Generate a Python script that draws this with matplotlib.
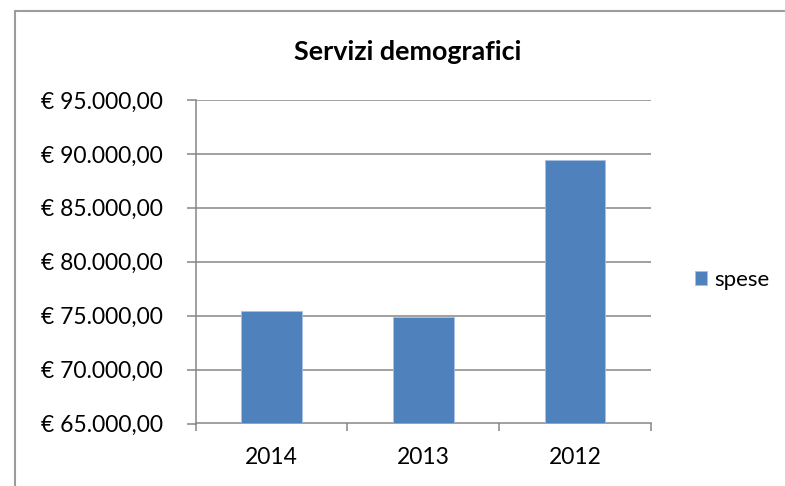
import matplotlib

matplotlib.use("Agg")
import matplotlib.pyplot as plt
from matplotlib.patches import Rectangle
from matplotlib.ticker import FuncFormatter, MultipleLocator

plt.rcParams["font.family"] = ["Lato", "DejaVu Sans"]

YEARS = ["2014", "2013", "2012"]
SPESE = [75460, 74850, 89420]
TITLE = "Servizi demografici"
SERIES = "spese"

GRID = "#868686"
BAR = "#4F81BD"


def euro(v, _pos=None):
    s = f"{v:,.2f}".replace(",", "X").replace(".", ",").replace("X", ".")
    return f"€ {s}"


fig = plt.figure(figsize=(7.85, 4.86), dpi=100)
# outer chart frame (Excel chart area border, clipped at the right/bottom)
fig.patches.append(
    Rectangle((14.5 / 785, -0.1), 1.2, 1 - 11 / 486 + 0.1, transform=fig.transFigure,
              fill=False, edgecolor="#9c9c9c", lw=1.5)
)

ax = fig.add_axes([195.7 / 785, 1 - 423.5 / 486, (651 - 195.7) / 785, (423.5 - 100) / 486])
xs = list(range(len(YEARS)))
ax.bar(xs, SPESE, width=0.4, color=BAR, edgecolor="#a9c0de", lw=0.6, zorder=3, label=SERIES)

ax.set_xlim(-0.5, len(YEARS) - 0.5)
ax.set_ylim(65000, 95000)
ax.yaxis.set_major_locator(MultipleLocator(5000))
ax.yaxis.set_major_formatter(FuncFormatter(euro))
ax.set_xticks(xs)
ax.set_xticklabels(YEARS)
ax.set_xticks([x - 0.5 for x in range(len(YEARS) + 1)], minor=True)
ax.tick_params(axis="x", which="major", length=0, pad=17, labelsize=16.5)
ax.tick_params(axis="x", which="minor", length=6, width=1.1, color=GRID, direction="out")
ax.tick_params(axis="y", length=6.5, width=1.1, color=GRID, pad=17, labelsize=16.5)

ax.grid(True, axis="y", color=GRID, lw=1.1, zorder=0)
for side in ("top", "right"):
    ax.spines[side].set_visible(False)
for side in ("left", "bottom"):
    ax.spines[side].set_color(GRID)
    ax.spines[side].set_linewidth(1.1)

fig.text(408 / 785, 1 - 60 / 486, TITLE, ha="center", va="baseline", fontsize=19.4, fontweight="bold")
fig.legend(loc="center left", bbox_to_anchor=(684 / 785, 1 - 280 / 486), frameon=False,
           fontsize=16, handlelength=0.55, handleheight=0.55, handletextpad=0.3, borderpad=0)

fig.savefig("out.png", dpi=100)
